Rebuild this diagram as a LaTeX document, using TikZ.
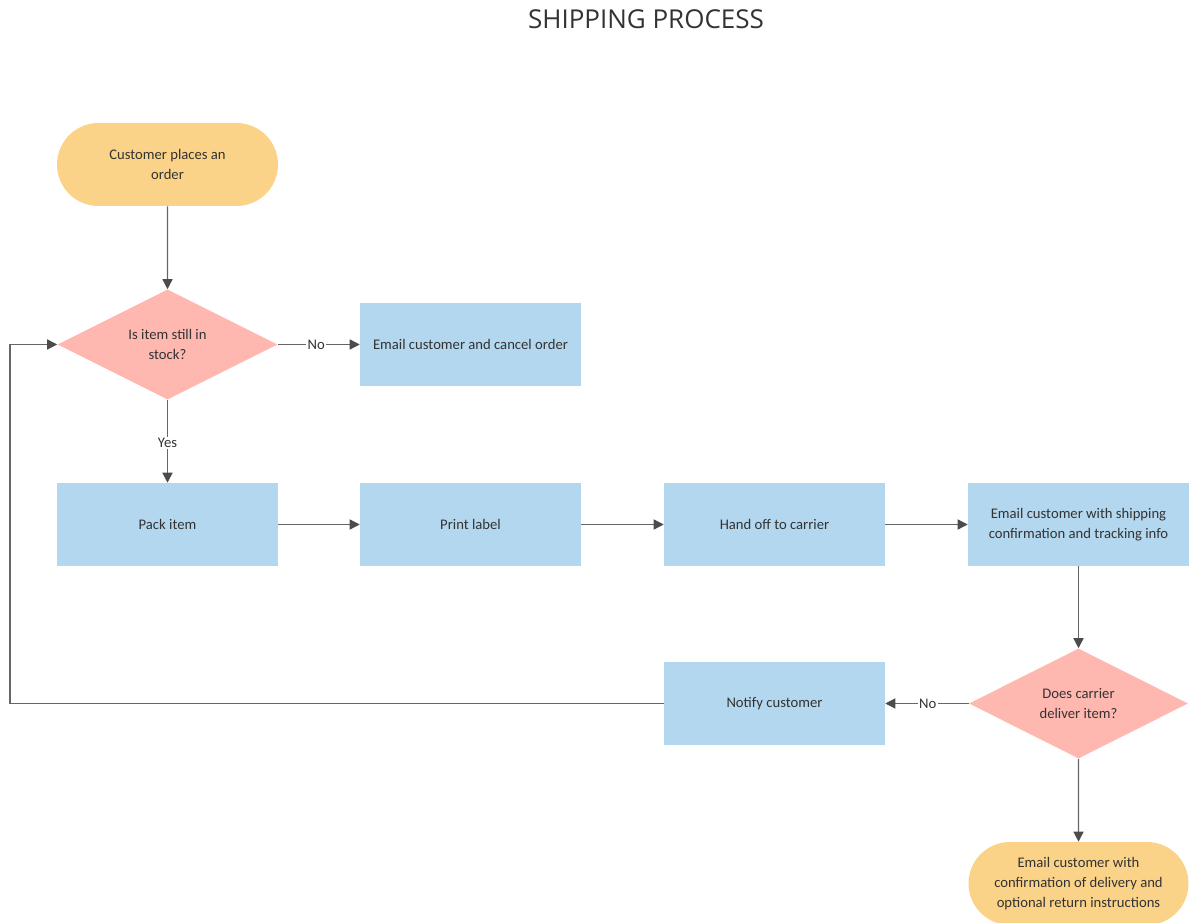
\documentclass[tikz,border=0pt]{standalone}
\usepackage{fontspec}
\setmainfont{Carlito}
\newfontfamily\titlefont{Open Sans}
\usetikzlibrary{shapes.geometric,shapes.misc,arrows.meta}
\definecolor{termfill}{HTML}{FAD388}
\definecolor{decfill}{HTML}{FFB8B0}
\definecolor{procfill}{HTML}{B3D7EE}
\definecolor{linecol}{HTML}{666666}
\definecolor{txtcol}{HTML}{333333}
\begin{document}
\begin{tikzpicture}[x=0.75pt,y=-0.75pt,
  base/.style={text=txtcol,font=\fontsize{11}{15}\selectfont,align=center,inner sep=0pt},
  term/.style={base,fill=termfill,rounded rectangle,minimum width=221*0.75pt,minimum height=83*0.75pt},
  dec/.style={base,fill=decfill,diamond,aspect=2,minimum width=220*0.75pt,minimum height=110*0.75pt},
  proc/.style={base,fill=procfill,rectangle,minimum width=221*0.75pt,minimum height=83*0.75pt},
  conn/.style={draw=linecol,line width=1pt,-{Triangle[length=7.5pt,width=7.5pt,color=black!70]}},
  lbl/.style={base,fill=white,inner sep=1pt}
]
\useasboundingbox (0,0) rectangle (1190,923);
\node[base,font=\titlefont\fontsize{19.5}{22}\selectfont,text=txtcol] (title) at (646,19) {SHIPPING PROCESS};
\node[term] (start) at (167.5,164.5) {Customer places an\\order};
\node[dec] (stock) at (167.5,344.5) {Is item still in\\stock?};
\node[proc] (cancel) at (470.5,344.5) {Email customer and cancel order};
\node[proc] (pack) at (167.5,524.5) {Pack item};
\node[proc] (print) at (470.5,524.5) {Print label};
\node[proc] (hand) at (774.5,524.5) {Hand off to carrier};
\node[proc] (ship) at (1078.5,524.5) {Email customer with shipping\\confirmation and tracking info};
\node[dec,minimum width=219*0.75pt] (deliv) at (1078.5,703.5) {Does carrier\\deliver item?};
\node[proc] (notify) at (774.5,703.5) {Notify customer};
\node[term,minimum width=220*0.75pt] (final) at (1078.5,883.5) {Email customer with\\confirmation of delivery and\\optional return instructions};
\coordinate (loopA) at (10,703.5);
\coordinate (loopB) at (10,344.5);
\draw[conn] (start) -- (stock);
\draw[conn] (stock) -- node[lbl,pos=0.47] {No} (cancel);
\draw[conn] (stock) -- node[lbl,pos=0.52] {Yes} (pack);
\draw[conn] (pack) -- (print);
\draw[conn] (print) -- (hand);
\draw[conn] (hand) -- (ship);
\draw[conn] (ship) -- (deliv);
\draw[conn] (deliv) -- node[lbl,pos=0.49] {No} (notify);
\draw[conn] (deliv) -- (final);
\draw[conn] (notify.west) -- (loopA) -- (loopB) -- (stock.west);
\end{tikzpicture}
\end{document}
